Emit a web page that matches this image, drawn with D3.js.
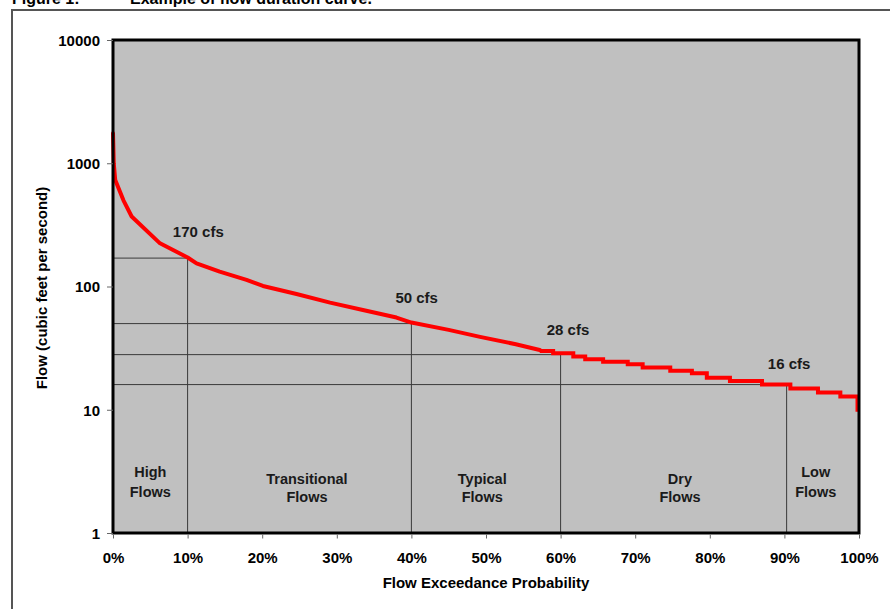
<!DOCTYPE html>
<html>
<head>
<meta charset="utf-8">
<script src="https://cdn.jsdelivr.net/npm/d3@7/dist/d3.min.js"></script>
<style>
  html, body { margin: 0; padding: 0; background: #fff; }
  svg { display: block; }
  text { font-family: "Liberation Sans", Arial, sans-serif; font-weight: bold; fill: #000; }
</style>
</head>
<body>
<svg id="chart" width="890" height="609"></svg>
<script>
// ---- data ----
const yTicks = [1, 10, 100, 1000, 10000];
const xTicks = [0, 10, 20, 30, 40, 50, 60, 70, 80, 90, 100];

// smooth upper part of the flow duration curve: exceedance % and flow (cfs)
const curvePct  = [0, 0.1, 0.3, 1.4, 2.5, 6.3, 8.9, 10, 11.2, 14.3, 17.9, 20.1, 24.6, 29.1, 33.5, 38.0, 40, 45, 49.2, 54, 57.2];
const curveFlow = [1750, 1000, 730, 500, 370, 224, 186, 172, 154, 132, 113, 101, 87, 74, 64.5, 56, 51, 44.5, 39, 34, 30.5];

// stepped lower part: start % of each step and its flow
const stepPct  = [57.2, 59.0, 61.7, 63.3, 65.7, 69.0, 71.0, 74.7, 77.6, 79.6, 82.7, 87.0, 90.8, 94.5, 97.5, 99.8, 100];
const stepFlow = [30, 28.7, 27, 25.7, 24.5, 23.4, 22.0, 20.7, 19.8, 18.2, 17.1, 16.0, 14.9, 13.8, 12.8, 10, 10];

// reference flows
const refPct   = [10, 40, 60, 90.3];
const refFlow  = [170, 50, 28, 16];
const refLabel = ["170 cfs", "50 cfs", "28 cfs", "16 cfs"];

// flow regime zones
const zoneCenterPct = [5, 26, 49.5, 76, 94.2];
const zoneLine1 = ["High", "Transitional", "Typical", "Dry", "Low"];
const zoneLine2 = ["Flows", "Flows", "Flows", "Flows", "Flows"];

// ---- layout ----
const L = 113, R = 859, T = 40, B = 533;
const svg = d3.select("#chart");

const x = d3.scaleLinear().domain([0, 100]).range([L, R]);
const y = d3.scaleLog().domain([1, 10000]).range([B, T]);

// title (clipped at the top edge, as in the source figure)
svg.append("text").attr("x", 12).attr("y", 4).style("font-size", "16px").text("Figure 1:");
svg.append("text").attr("x", 130).attr("y", 4).style("font-size", "16px").text("Example of flow duration curve.");

// outer frame
svg.append("line").attr("x1", 12).attr("x2", 890).attr("y1", 10).attr("y2", 10)
  .attr("stroke", "#555").attr("stroke-width", 2);
svg.append("line").attr("x1", 12).attr("x2", 12).attr("y1", 9).attr("y2", 609)
  .attr("stroke", "#555").attr("stroke-width", 2);

// plot background
svg.append("rect").attr("x", L).attr("y", T).attr("width", R - L).attr("height", B - T)
  .attr("fill", "#c0c0c0");

// reference lines
const refG = svg.append("g").attr("stroke", "#3a3a3a").attr("stroke-width", 1).attr("fill", "none");
refPct.forEach((p, i) => {
  refG.append("line").attr("x1", L).attr("x2", x(p)).attr("y1", y(refFlow[i])).attr("y2", y(refFlow[i]));
  refG.append("line").attr("x1", x(p)).attr("x2", x(p)).attr("y1", y(refFlow[i])).attr("y2", B);
});

// reference labels (offsets relative to the reference point)
const labelDx = [10.7, 5.3, 7.4, 2.5];
const labelDy = [-21.5, -21, -19.6, -15.6];
refPct.forEach((p, i) => {
  svg.append("text").attr("x", x(p) + labelDx[i]).attr("y", y(refFlow[i]) + labelDy[i])
    .attr("text-anchor", "middle").style("font-size", "15px").style("fill", "#1a1a1a")
    .text(refLabel[i]);
});

// zone labels
const zoneY1 = [477, 483.5, 483.5, 483.5, 477];
const zoneY2 = [497, 502, 502, 502, 497];
zoneCenterPct.forEach((p, i) => {
  svg.append("text").attr("x", x(p)).attr("y", zoneY1[i]).attr("text-anchor", "middle")
    .style("font-size", "14.5px").style("fill", "#1a1a1a").text(zoneLine1[i]);
  svg.append("text").attr("x", x(p)).attr("y", zoneY2[i]).attr("text-anchor", "middle")
    .style("font-size", "14.5px").style("fill", "#1a1a1a").text(zoneLine2[i]);
});

// curve
const smooth = curvePct.map((p, i) => [p, curveFlow[i]]);
const steps = stepPct.map((p, i) => [p, stepFlow[i]]);
const lineSmooth = d3.line().x(d => x(d[0])).y(d => y(d[1])).curve(d3.curveLinear);
const lineStep = d3.line().x(d => x(d[0])).y(d => y(d[1])).curve(d3.curveStepAfter);
svg.append("path").attr("d", lineSmooth(smooth)).attr("fill", "none")
  .attr("stroke", "#ff0000").attr("stroke-width", 4).attr("stroke-linejoin", "round").attr("stroke-linecap", "round");
svg.append("path").attr("d", lineStep(steps)).attr("fill", "none")
  .attr("stroke", "#ff0000").attr("stroke-width", 4).attr("stroke-linejoin", "miter");

// plot border
svg.append("rect").attr("x", L).attr("y", T).attr("width", R - L).attr("height", B - T)
  .attr("fill", "none").attr("stroke", "#000").attr("stroke-width", 3);

// y axis
const yAxis = d3.axisLeft(y).tickValues(yTicks).tickFormat(d3.format("d")).tickSize(6).tickPadding(7);
const gy = svg.append("g").attr("transform", `translate(${L - 1.5},0)`).call(yAxis);
gy.select(".domain").remove();
gy.selectAll(".tick line").attr("stroke", "#666").attr("transform", "translate(1.5,0)");
gy.selectAll(".tick text").style("font-size", "15px").attr("dy", "0.36em").attr("x", -11.5).attr("fill", "#000");

// x axis
const xAxis = d3.axisBottom(x).tickValues(xTicks).tickFormat(d => d + "%").tickSize(4).tickPadding(14);
const gx = svg.append("g").attr("transform", `translate(0,${B + 1.5})`).call(xAxis);
gx.select(".domain").remove();
gx.selectAll(".tick line").attr("stroke", "#666");
gx.selectAll(".tick text").style("font-size", "15px").attr("fill", "#000");

// axis titles
svg.append("text").attr("x", x(50)).attr("y", 588).attr("text-anchor", "middle")
  .style("font-size", "15px").text("Flow Exceedance Probability");
svg.append("text").attr("transform", `translate(47,288) rotate(-90)`).attr("text-anchor", "middle")
  .style("font-size", "15px").text("Flow (cubic feet per second)");
</script>
</body>
</html>
